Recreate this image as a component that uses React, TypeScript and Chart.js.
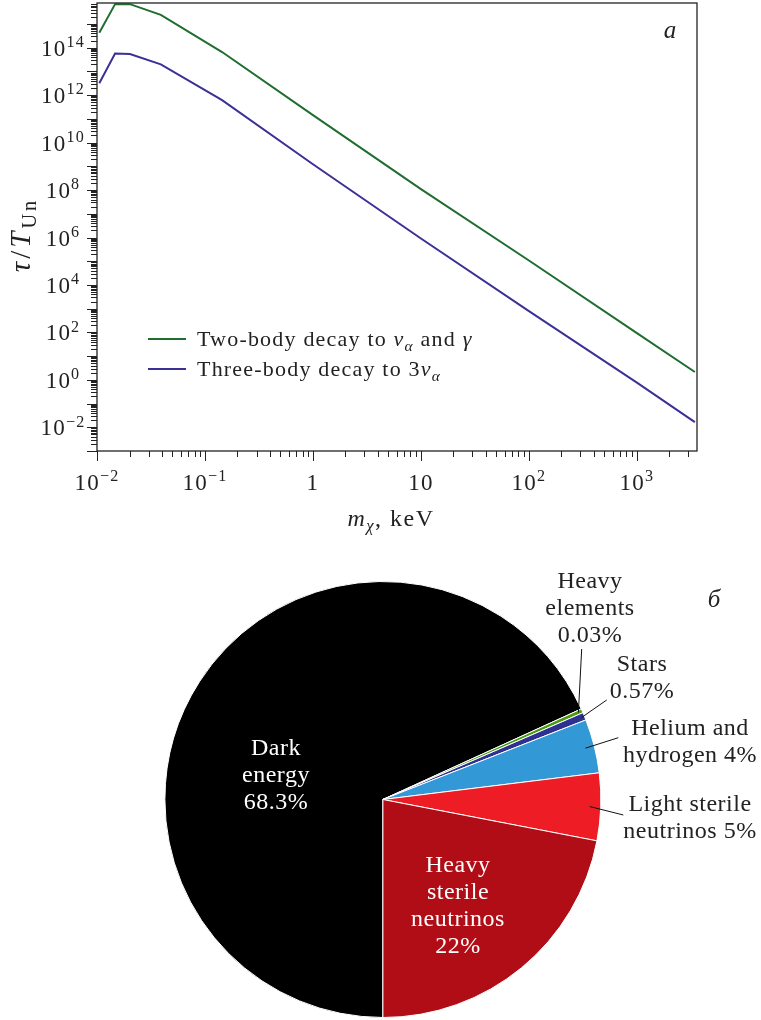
import React, { useEffect, useRef } from "react";
import { Chart, registerables } from "chart.js";

Chart.register(...registerables);

// ---------- Data: panel (a) lifetimes ----------
const massKeV = [0.0105, 0.0147, 0.0202, 0.039, 0.144, 1, 10, 100, 1000, 3440];
const twoBodyLifetime = [4.3e14, 6.9e15, 6.9e15, 2.45e15, 6.6e13, 1.45e11, 1.1e8, 1.07e5, 93, 2.14];
const threeBodyLifetime = [3.16e12, 5.75e13, 5.4e13, 2.0e13, 6.2e11, 1.23e9, 9.1e5, 794, 0.76, 0.0166];
const xRange = [0.01, 3600];
const yRange = [1e-3, 7.7e15];
const xLabelExponents = [-2, -1, 0, 1, 2, 3];
const yLabelExponents = [-2, 0, 2, 4, 6, 8, 10, 12, 14];

// ---------- Data: panel (б) energy budget ----------
const pieCategories = [
  "Dark energy",
  "Heavy elements",
  "Stars",
  "Helium and hydrogen",
  "Light sterile neutrinos",
  "Heavy sterile neutrinos",
];
const pieShares = [68.3, 0.03, 0.57, 4, 5, 22];
const pieLineWords = [[1, 1, 1], [1, 1, 1], [1, 1], [2, 2], [2, 2], [1, 1, 1, 1]];
const minVisibleShare = 0.3;

const FONT = "'Liberation Serif', 'DejaVu Serif', 'Times New Roman', serif";
const INK = "#222";
const GREEN = "#1f6e30";
const PURPLE = "#3b3096";
const pieColors = ["#000000", "#4b9b0e", "#2e3192", "#3399d6", "#ee1d25", "#b00d16"];

type Run = { t: string; it?: boolean; sub?: boolean; sup?: boolean };

function setFont(ctx: CanvasRenderingContext2D, size: number, italic?: boolean, spacing = 0) {
  ctx.font = `${italic ? "italic " : ""}${size}px ${FONT}`;
  (ctx as any).letterSpacing = `${spacing}px`;
}
function runSize(r: Run, size: number) {
  return r.sub || r.sup ? size * 0.7 : size;
}
function runsWidth(ctx: CanvasRenderingContext2D, runs: Run[], size: number, spacing: number) {
  let w = 0;
  for (const r of runs) {
    setFont(ctx, runSize(r, size), r.it, spacing);
    w += ctx.measureText(r.t).width;
  }
  return w;
}
function drawRuns(
  ctx: CanvasRenderingContext2D,
  runs: Run[],
  x: number,
  y: number,
  size: number,
  align: "left" | "center" | "right",
  spacing = 0
) {
  const w = runsWidth(ctx, runs, size, spacing);
  let cx = align === "center" ? x - w / 2 : align === "right" ? x - w : x;
  ctx.textAlign = "left";
  ctx.textBaseline = "alphabetic";
  for (const r of runs) {
    setFont(ctx, runSize(r, size), r.it, spacing);
    const dy = r.sub ? size * 0.22 : r.sup ? -size * 0.38 : 0;
    ctx.fillText(r.t, cx, y + dy);
    cx += ctx.measureText(r.t).width;
  }
  (ctx as any).letterSpacing = "0px";
}
function powRuns(k: number, plainSmall: boolean): Run[] {
  if (plainSmall && k === 0) return [{ t: "1" }];
  if (plainSmall && k === 1) return [{ t: "10" }];
  return [{ t: "10" }, { t: k < 0 ? "\u2212" + Math.abs(k) : String(k), sup: true }];
}

const lifetimeDecor = {
  id: "lifetimeDecor",
  afterDraw(chart: any) {
    const { ctx, chartArea: a } = chart;
    const xs = chart.scales.x;
    const ys = chart.scales.y;
    ctx.save();
    ctx.strokeStyle = INK;
    ctx.fillStyle = INK;
    ctx.lineWidth = 1;
    ctx.beginPath();
    for (let k = -3; k <= 4; k++) {
      for (let m = 1; m <= 9; m++) {
        const v = m * Math.pow(10, k);
        if (v < xs.min * 0.9999 || v > xs.max * 1.0001) continue;
        const px = Math.round(xs.getPixelForValue(v)) + 0.5;
        ctx.moveTo(px, a.bottom);
        ctx.lineTo(px, a.bottom + (m === 1 ? 10 : 6));
      }
    }
    for (let k = -4; k <= 16; k++) {
      for (let m = 1; m <= 9; m++) {
        const v = m * Math.pow(10, k);
        if (v < ys.min * 0.9999 || v > ys.max * 1.0001) continue;
        const py = Math.round(ys.getPixelForValue(v)) + 0.5;
        ctx.moveTo(a.left, py);
        ctx.lineTo(a.left - (m === 1 ? 10 : 6), py);
      }
    }
    ctx.stroke();
    ctx.lineWidth = 1.3;
    ctx.strokeRect(a.left, a.top, a.right - a.left, a.bottom - a.top);

    // tick labels
    for (const k of xLabelExponents) {
      const px = xs.getPixelForValue(Math.pow(10, k));
      drawRuns(ctx, powRuns(k, true), px, a.bottom + 39, 23, "center", 1.2);
    }
    for (const k of yLabelExponents) {
      const py = ys.getPixelForValue(Math.pow(10, k));
      drawRuns(ctx, powRuns(k, false), a.left - 34, py + 8, 23, "center", 1.2);
    }

    // axis titles
    drawRuns(
      ctx,
      [{ t: "m", it: true }, { t: "\u03c7", it: true, sub: true }, { t: ", keV" }],
      391,
      a.bottom + 75,
      24,
      "center",
      1.5
    );
    ctx.save();
    ctx.translate(30, 235);
    ctx.rotate(-Math.PI / 2);
    drawRuns(
      ctx,
      [{ t: "\u03c4", it: true }, { t: "/" }, { t: "T", it: true }, { t: "Un", sub: true }],
      0,
      0,
      29,
      "center",
      3
    );
    ctx.restore();

    // legend
    const legend: { color: string; runs: Run[] }[] = [
      {
        color: GREEN,
        runs: [
          { t: "Two-body decay to " },
          { t: "\u03bd", it: true },
          { t: "\u03b1", it: true, sub: true },
          { t: " and " },
          { t: "\u03b3", it: true },
        ],
      },
      {
        color: PURPLE,
        runs: [
          { t: "Three-body decay to 3" },
          { t: "\u03bd", it: true },
          { t: "\u03b1", it: true, sub: true },
        ],
      },
    ];
    legend.forEach((item, i) => {
      const ly = 339 + i * 30;
      ctx.strokeStyle = item.color;
      ctx.lineWidth = 2;
      ctx.beginPath();
      ctx.moveTo(a.left + 51, ly);
      ctx.lineTo(a.left + 89, ly);
      ctx.stroke();
      ctx.fillStyle = INK;
      drawRuns(ctx, item.runs, a.left + 100, ly + 7, 22, "left", 1.2);
    });

    // panel letter
    ctx.fillStyle = INK;
    setFont(ctx, 25, true);
    ctx.textAlign = "center";
    ctx.fillText("\u0430", a.right - 27, a.top + 35);
    ctx.restore();
  },
};

// label anchor layout for the pie (text centre x, first baseline, inside?, leader start)
const pieLabelLayout = [
  { x: 276, y: 755, inside: true },
  { x: 590, y: 588, inside: false, lead: [581.7, 649], inset: 4 },
  { x: 642, y: 671, inside: false, lead: [606.7, 700], inset: 3 },
  { x: 690, y: 735, inside: false, lead: [618.3, 737.7], inset: 9 },
  { x: 690, y: 811, inside: false, lead: [623.3, 815], inset: 11 },
  { x: 458, y: 872, inside: true },
];

const pieDecor = {
  id: "pieDecor",
  afterDraw(chart: any) {
    const { ctx } = chart;
    const arcs = chart.getDatasetMeta(0).data;
    ctx.save();
    pieCategories.forEach((name, i) => {
      const lay = pieLabelLayout[i];
      const tokens = name.split(" ").concat(`${pieShares[i]}%`);
      const lines: string[] = [];
      let p = 0;
      for (const n of pieLineWords[i]) {
        lines.push(tokens.slice(p, p + n).join(" "));
        p += n;
      }
      ctx.fillStyle = lay.inside ? "#ffffff" : INK;
      setFont(ctx, 24, false, 0.5);
      ctx.textAlign = "center";
      ctx.textBaseline = "alphabetic";
      lines.forEach((ln, j) => ctx.fillText(ln, lay.x, lay.y + j * 27));
      (ctx as any).letterSpacing = "0px";
      if (lay.lead) {
        const arc = arcs[i];
        const { x, y, startAngle, endAngle, outerRadius } = arc.getProps(
          ["x", "y", "startAngle", "endAngle", "outerRadius"],
          true
        );
        const mid = (startAngle + endAngle) / 2;
        const r = outerRadius - (lay.inset || 0);
        ctx.strokeStyle = "#111";
        ctx.lineWidth = 1;
        ctx.beginPath();
        ctx.moveTo(lay.lead[0], lay.lead[1]);
        ctx.lineTo(x + r * Math.cos(mid), y + r * Math.sin(mid));
        ctx.stroke();
      }
    });
    ctx.fillStyle = INK;
    setFont(ctx, 25, true);
    ctx.textAlign = "center";
    ctx.fillText("\u0431", 714, 607);
    ctx.restore();
  },
};

export default function App() {
  const topRef = useRef<HTMLCanvasElement>(null);
  const pieRef = useRef<HTMLCanvasElement>(null);

  useEffect(() => {
    const lineChart = new Chart(topRef.current as HTMLCanvasElement, {
      type: "line",
      data: {
        datasets: [
          {
            label: "Two-body decay",
            data: massKeV.map((m, i) => ({ x: m, y: twoBodyLifetime[i] })),
            borderColor: GREEN,
            borderWidth: 2,
            pointRadius: 0,
            fill: false,
            tension: 0,
          },
          {
            label: "Three-body decay",
            data: massKeV.map((m, i) => ({ x: m, y: threeBodyLifetime[i] })),
            borderColor: PURPLE,
            borderWidth: 2,
            pointRadius: 0,
            fill: false,
            tension: 0,
          },
        ],
      },
      options: {
        responsive: false,
        animation: false,
        devicePixelRatio: 1,
        layout: { padding: { left: 97, top: 3, right: 64, bottom: 569 } },
        scales: {
          x: { type: "logarithmic", min: xRange[0], max: xRange[1], display: false },
          y: { type: "logarithmic", min: yRange[0], max: yRange[1], display: false },
        },
        plugins: { legend: { display: false }, tooltip: { enabled: false } },
      } as any,
      plugins: [lifetimeDecor],
    });

    const pieChart = new Chart(pieRef.current as HTMLCanvasElement, {
      type: "pie",
      data: {
        labels: pieCategories,
        datasets: [
          {
            data: pieShares.map((v) => Math.max(v, minVisibleShare)),
            backgroundColor: pieColors,
            borderColor: "#ffffff",
            borderWidth: 1,
          },
        ],
      },
      options: {
        responsive: false,
        animation: false,
        devicePixelRatio: 1,
        rotation: 180,
        layout: { padding: { left: 164.4, top: 580.7, right: 159.6, bottom: 1.7 } },
        plugins: { legend: { display: false }, tooltip: { enabled: false } },
      } as any,
      plugins: [pieDecor],
    });

    return () => {
      lineChart.destroy();
      pieChart.destroy();
    };
  }, []);

  const canvasStyle: React.CSSProperties = {
    position: "absolute",
    left: 0,
    top: 0,
    width: 761,
    height: 1020,
  };

  return (
    <div style={{ position: "absolute", left: 0, top: 0, width: 761, height: 1020, background: "#fff" }}>
      <canvas ref={topRef} width={761} height={1020} style={canvasStyle} />
      <canvas ref={pieRef} width={761} height={1020} style={canvasStyle} />
    </div>
  );
}
